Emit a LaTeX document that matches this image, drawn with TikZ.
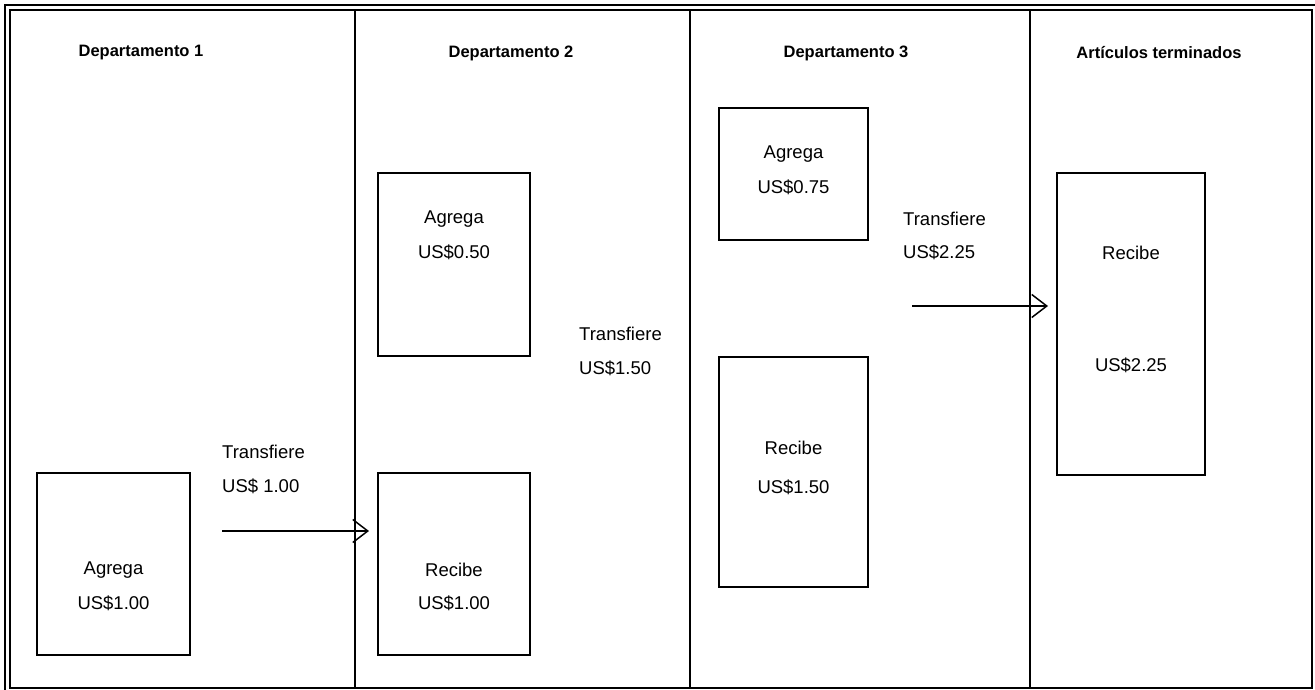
\documentclass[tikz,border=0pt]{standalone}
\usepackage{fontspec}
\setmainfont{Liberation Sans}
\usetikzlibrary{arrows.meta}
\begin{document}
\begin{tikzpicture}[x=1pt,y=-1pt,
  frame/.style={line width=2pt},
  thinframe/.style={line width=1.6pt},
  stagebox/.style={draw,line width=1.8pt,inner sep=0pt},
  head/.style={font=\fontsize{16.5}{20}\selectfont\bfseries,inner sep=0pt},
  txt/.style={font=\fontsize{18.5}{22}\selectfont,inner sep=0pt},
  ltxt/.style={txt,anchor=west},
  flow/.style={line width=1.5pt,-{Straight Barb[length=15pt,width=23pt,line width=1.5pt]}}
]
\useasboundingbox (0,0) rectangle (1315,690);

% outer double rule (top and left)
\draw[thinframe] (5,690) -- (5,5) -- (1315,5);
% table frame and column rules
\draw[frame] (10,10) rectangle (1312,688);
\draw[frame] (355,10) -- (355,688);
\draw[frame] (690,10) -- (690,688);
\draw[frame] (1030,10) -- (1030,688);

% column headings
\node[head] (h1) at (141,53) {Departamento 1};
\node[head] (h2) at (511,53) {Departamento 2};
\node[head] (h3) at (846,53) {Departamento 3};
\node[head] (h4) at (1159,53) {Artículos terminados};

% stage boxes
\node[stagebox,minimum width=153pt,minimum height=182pt] (b1) at (113.5,564) {};
\node[stagebox,minimum width=152pt,minimum height=183pt] (b2a) at (454,264.5) {};
\node[stagebox,minimum width=152pt,minimum height=182pt] (b2r) at (454,564) {};
\node[stagebox,minimum width=149pt,minimum height=132pt] (b3a) at (793.5,174) {};
\node[stagebox,minimum width=149pt,minimum height=230pt] (b3r) at (793.5,472) {};
\node[stagebox,minimum width=148pt,minimum height=302pt] (b4) at (1131,324) {};

% box contents
\node[txt] (t1a) at (113.5,570) {Agrega};
\node[txt] (t1b) at (113.5,603) {US\$1.00};
\node[txt] (t2a) at (454,219) {Agrega};
\node[txt] (t2b) at (454,252) {US\$0.50};
\node[txt] (t2c) at (454,570) {Recibe};
\node[txt] (t2d) at (454,603) {US\$1.00};
\node[txt] (t3a) at (793.5,154) {Agrega};
\node[txt] (t3b) at (793.5,187) {US\$0.75};
\node[txt] (t3c) at (793.5,448) {Recibe};
\node[txt] (t3d) at (793.5,487) {US\$1.50};
\node[txt] (t4a) at (1131,253) {Recibe};
\node[txt] (t4b) at (1131,365) {US\$2.25};

% transfer labels
\node[ltxt] (l1a) at (222,452) {Transfiere};
\node[ltxt] (l1b) at (222,486) {US\$ 1.00};
\node[ltxt] (l2a) at (579,334) {Transfiere};
\node[ltxt] (l2b) at (579,368) {US\$1.50};
\node[ltxt] (l3a) at (903,219) {Transfiere};
\node[ltxt] (l3b) at (903,252) {US\$2.25};

% transfer arrows
\coordinate (a1s) at (222,531);
\coordinate (a1e) at (369,531);
\coordinate (a3s) at (912,306);
\coordinate (a3e) at (1048,306);
\draw[flow] (a1s) -- (a1e);
\draw[flow] (a3s) -- (a3e);
\end{tikzpicture}
\end{document}
